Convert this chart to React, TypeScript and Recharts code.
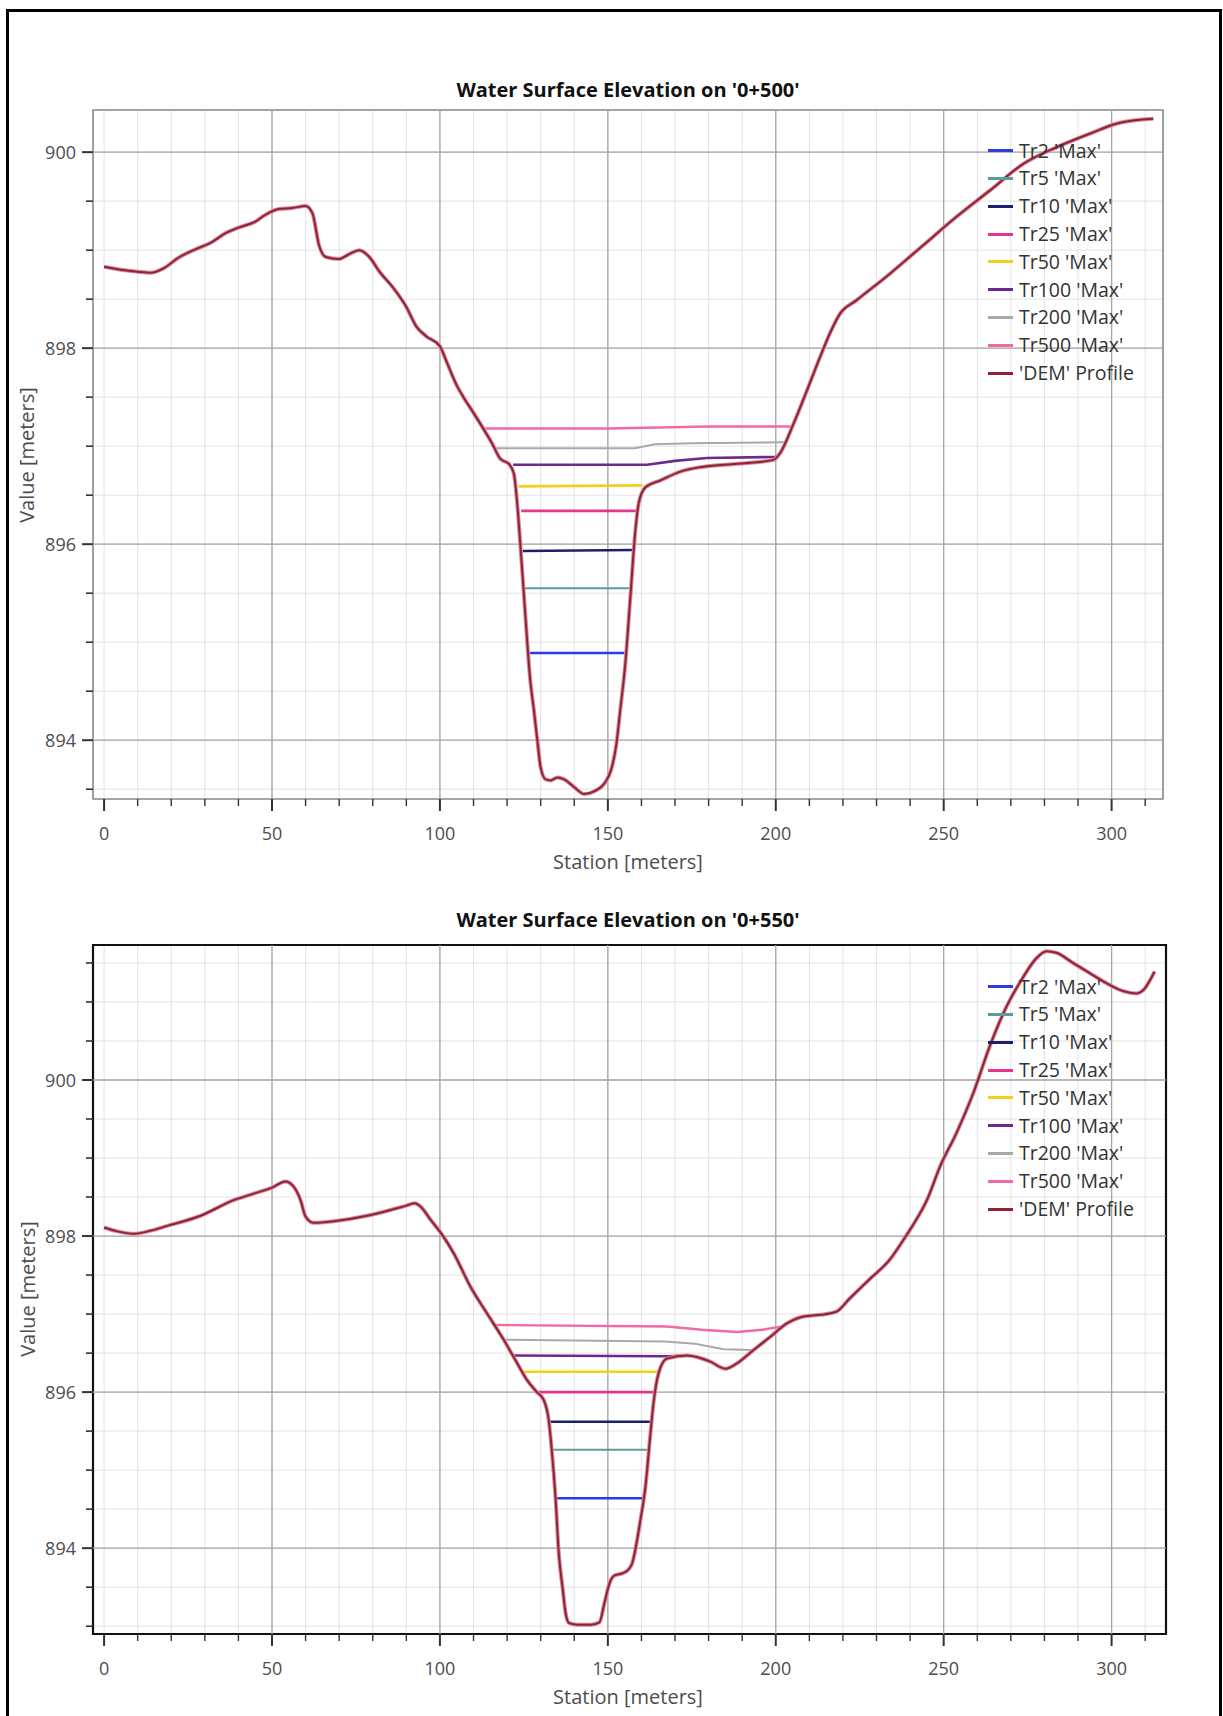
import React from 'react';
import { LineChart, Line, XAxis, YAxis, CartesianGrid, ReferenceLine, ReferenceArea } from 'recharts';

// ---------- shared labels / ticks ----------
const legendLabels = ["Tr2 'Max'", "Tr5 'Max'", "Tr10 'Max'", "Tr25 'Max'", "Tr50 'Max'", "Tr100 'Max'", "Tr200 'Max'", "Tr500 'Max'", "'DEM' Profile"];
const seriesColors = ['#2f3ae6', '#5a9c97', '#1d1f6e', '#e6368c', '#f2d11c', '#6a2a8e', '#a9a9a9', '#f06aa6', '#8e2436'];
const stationTicks = [0, 10, 20, 30, 40, 50, 60, 70, 80, 90, 100, 110, 120, 130, 140, 150, 160, 170, 180, 190, 200, 210, 220, 230, 240, 250, 260, 270, 280, 290, 300, 310];
const majorStations = [50, 100, 150, 200, 250, 300];
const xAxisTitle = 'Station [meters]';
const yAxisTitle = 'Value [meters]';

// ---------- chart 1 : 0+500 ----------
const c1Title = "Water Surface Elevation on '0+500'";
const c1ElevTicks = [893.5, 894, 894.5, 895, 895.5, 896, 896.5, 897, 897.5, 898, 898.5, 899, 899.5, 900];
const c1MajorElev = [894, 896, 898, 900];
const c1Dem: [number, number][] = [
  [0, 898.83], [5, 898.8], [10, 898.78], [14, 898.77], [18, 898.82], [22, 898.92], [28, 899.02], [32, 899.08],
  [36, 899.17], [40, 899.23], [45, 899.29], [48, 899.36], [52, 899.42], [56, 899.43], [60, 899.45], [62, 899.38],
  [64, 899.05], [66, 898.93], [70, 898.91], [73, 898.96], [76, 899.0], [79, 898.93], [82, 898.78], [86, 898.62],
  [90, 898.42], [93, 898.22], [96, 898.12], [100, 898.02], [102, 897.86], [105, 897.62], [107, 897.5], [110, 897.34],
  [112, 897.23], [115.5, 897.03], [118, 896.87], [120.5, 896.82], [122, 896.72], [123, 896.42], [124, 895.97],
  [125.4, 895.29], [126.9, 894.61], [128, 894.3], [129, 894.0], [130, 893.72], [131.5, 893.6], [133, 893.59],
  [135, 893.62], [137, 893.6], [140, 893.52], [143, 893.45], [146, 893.48], [149, 893.56], [151, 893.7],
  [152.5, 893.95], [153.7, 894.31], [155.2, 894.78], [156.7, 895.46], [158.2, 896.14], [159.2, 896.42],
  [161.2, 896.58], [165.6, 896.65], [171.6, 896.74], [178.5, 896.79], [188.5, 896.82], [199.3, 896.86],
  [201.3, 896.93], [205.3, 897.23], [209.3, 897.57], [213.2, 897.91], [216.1, 898.15], [219.1, 898.35],
  [224.1, 898.49], [234, 898.76], [243.9, 899.05], [253.8, 899.34], [263.8, 899.61], [273.7, 899.88],
  [283.6, 900.05], [293.6, 900.19], [301.4, 900.29], [308.5, 900.33], [312.4, 900.34],
];
const c1Tr2: [number, number][] = [[126.3, 894.89], [155.0, 894.89]];
const c1Tr5: [number, number][] = [[125.3, 895.55], [156.3, 895.55]];
const c1Tr10: [number, number][] = [[124.6, 895.93], [157.7, 895.94]];
const c1Tr25: [number, number][] = [[124.2, 896.34], [158.6, 896.34]];
const c1Tr50: [number, number][] = [[123.4, 896.59], [160.3, 896.6]];
const c1Tr100: [number, number][] = [[121.8, 896.81], [161.7, 896.81], [170, 896.85], [179.5, 896.88], [200.6, 896.89]];
const c1Tr200: [number, number][] = [[116.3, 896.98], [158, 896.98], [164, 897.02], [175, 897.03], [202.4, 897.04]];
const c1Tr500: [number, number][] = [[112.5, 897.18], [150, 897.18], [180, 897.2], [204.4, 897.2]];

// ---------- chart 2 : 0+550 ----------
const c2Title = "Water Surface Elevation on '0+550'";
const c2ElevTicks = [893, 893.5, 894, 894.5, 895, 895.5, 896, 896.5, 897, 897.5, 898, 898.5, 899, 899.5, 900, 900.5, 901, 901.5];
const c2MajorElev = [894, 896, 898, 900];
const c2Dem: [number, number][] = [
  [0, 898.11], [4, 898.06], [8.9, 898.03], [14, 898.07], [18.8, 898.13], [28.7, 898.26], [38.6, 898.46],
  [45, 898.55], [50, 898.62], [54, 898.7], [56.5, 898.63], [58.5, 898.46], [60, 898.25], [62.4, 898.17],
  [68.4, 898.19], [78.3, 898.26], [85, 898.33], [90, 898.39], [92.5, 898.42], [94.2, 898.38], [97.2, 898.21],
  [101.1, 897.99], [104.1, 897.78], [109.1, 897.35], [114, 897.01], [119, 896.67], [123, 896.37], [126, 896.15],
  [128.9, 896.0], [130.9, 895.9], [132.4, 895.64], [133.4, 895.21], [134.4, 894.66], [135.4, 893.93],
  [136.5, 893.5], [137.5, 893.15], [138.5, 893.04], [141, 893.02], [145, 893.02], [147.5, 893.05], [149, 893.3],
  [150.5, 893.55], [152, 893.65], [154.5, 893.68], [156, 893.72], [157.2, 893.8], [159.7, 894.36],
  [161.2, 894.79], [162.6, 895.43], [163.6, 895.86], [165.1, 896.24], [167.6, 896.43], [173.6, 896.47],
  [176.5, 896.45], [180.5, 896.39], [185, 896.3], [188.5, 896.37], [193.4, 896.54], [198.4, 896.71],
  [203.3, 896.88], [208.3, 896.97], [213.2, 896.99], [218, 897.03], [222, 897.2], [228, 897.45], [234, 897.7],
  [238, 897.95], [241, 898.15], [245, 898.46], [249, 898.9], [253.8, 899.32], [258.8, 899.83], [263.7, 900.43],
  [268.7, 900.94], [273.7, 901.32], [277.6, 901.56], [280.6, 901.65], [283.6, 901.63], [288.5, 901.5],
  [293.5, 901.37], [298.5, 901.24], [303.4, 901.14], [307.4, 901.11], [309.4, 901.15], [312.8, 901.39],
];
const c2Tr2: [number, number][] = [[134.5, 894.64], [160.8, 894.64]];
const c2Tr5: [number, number][] = [[133.5, 895.26], [162.2, 895.26]];
const c2Tr10: [number, number][] = [[132.7, 895.62], [162.9, 895.62]];
const c2Tr25: [number, number][] = [[128.4, 896.0], [164.4, 896.0]];
const c2Tr50: [number, number][] = [[124.0, 896.26], [165.2, 896.26]];
const c2Tr100: [number, number][] = [[121.5, 896.47], [167.6, 896.46], [173.6, 896.47]];
const c2Tr200: [number, number][] = [[119.5, 896.67], [167, 896.65], [176, 896.62], [184.5, 896.55], [192.5, 896.54], [194, 896.55]];
const c2Tr500: [number, number][] = [[116.5, 896.86], [167.6, 896.84], [178, 896.8], [188.5, 896.77], [196, 896.8], [201.5, 896.84]];

const toPts = (arr: [number, number][]) => arr.map(([x, y]) => ({ x, y }));

const FONT = '"Open Sans", "DejaVu Sans", sans-serif';
const TICK_FS = 18;

const XTick = (props: any) => {
  const { x, y, payload } = props;
  const v = payload.value;
  const major = v % 50 === 0;
  return (
    <g>
      <line x1={x} x2={x} y1={y} y2={y + (major ? 12 : 7)} stroke="#333" strokeWidth={major ? 2 : 1.4} />
      {major && (
        <text x={x} y={y + 34} textAnchor="middle" dominantBaseline="central" fontSize={TICK_FS} fontFamily={FONT} fill="#4d4d4d">
          {v}
        </text>
      )}
    </g>
  );
};

const YTick = (props: any) => {
  const { x, y, payload } = props;
  const v = payload.value;
  const major = Math.abs(v % 2) < 1e-6;
  return (
    <g>
      <line x1={x} x2={x - (major ? 11 : 7)} y1={y} y2={y} stroke="#333" strokeWidth={major ? 2 : 1.6} />
      {major && (
        <text x={x - 17} y={y} textAnchor="end" dominantBaseline="central" fontSize={TICK_FS} fontFamily={FONT} fill="#4d4d4d">
          {v}
        </text>
      )}
    </g>
  );
};

type ChartCfg = {
  top: number;
  height: number;
  marginTop: number;
  marginRight: number;
  marginBottom: number;
  xDomain: [number, number];
  yDomain: [number, number];
  yTicks: number[];
  yMajor: number[];
  series: [number, number][][];
  dem: [number, number][];
  frameColor: string;
  frameWidth: number;
};

const ProfileChart = ({ cfg }: { cfg: ChartCfg }) => {
  const widths = [2.6, 2, 2.6, 2.6, 2.6, 2.6, 2, 2.4];
  return (
    <div style={{ position: 'absolute', left: 0, top: cfg.top }}>
      <LineChart
        width={1223}
        height={cfg.height}
        margin={{ top: cfg.marginTop, right: cfg.marginRight, left: 33, bottom: cfg.marginBottom }}
      >
        <CartesianGrid stroke="#e3e3e3" strokeWidth={1} />
        {majorStations.map((s) => (
          <ReferenceLine key={'vx' + s} x={s} stroke="#a6a6a6" strokeWidth={1.3} />
        ))}
        {cfg.yMajor.map((v) => (
          <ReferenceLine key={'hy' + v} y={v} stroke="#a6a6a6" strokeWidth={1.3} />
        ))}
        <XAxis
          type="number"
          dataKey="x"
          domain={cfg.xDomain}
          allowDataOverflow
          ticks={stationTicks}
          interval={0}
          tickSize={0}
          tickMargin={0}
          tick={(p: any) => <XTick {...p} />}
          axisLine={false}
          tickLine={false}
          height={80}
        />
        <YAxis
          type="number"
          dataKey="y"
          domain={cfg.yDomain}
          allowDataOverflow
          ticks={cfg.yTicks}
          interval={0}
          tickSize={0}
          tickMargin={0}
          tick={(p: any) => <YTick {...p} />}
          axisLine={false}
          tickLine={false}
          width={60}
        />
        {cfg.series.map((s, i) => (
          <Line
            key={legendLabels[i]}
            data={toPts(s)}
            dataKey="y"
            type="linear"
            stroke={seriesColors[i]}
            strokeWidth={widths[i]}
            dot={false}
            activeDot={false}
            isAnimationActive={false}
            name={legendLabels[i]}
          />
        ))}
        <Line
          data={toPts(cfg.dem)}
          dataKey="y"
          type="monotone"
          stroke="#d98a9c"
          strokeWidth={4}
          dot={false}
          activeDot={false}
          isAnimationActive={false}
          legendType="none"
        />
        <Line
          data={toPts(cfg.dem)}
          dataKey="y"
          type="monotone"
          stroke={seriesColors[8]}
          strokeWidth={2}
          dot={false}
          activeDot={false}
          isAnimationActive={false}
          name={legendLabels[8]}
        />
        <ReferenceArea
          x1={cfg.xDomain[0]}
          x2={cfg.xDomain[1]}
          y1={cfg.yDomain[0]}
          y2={cfg.yDomain[1]}
          fill="none"
          fillOpacity={0}
          stroke={cfg.frameColor}
          strokeWidth={cfg.frameWidth}
        />
      </LineChart>
    </div>
  );
};

const Legend = ({ left, top }: { left: number; top: number }) => (
  <div style={{ position: 'absolute', left, top, fontFamily: FONT, fontSize: 19.5, color: '#333' }}>
    {legendLabels.map((l, i) => (
      <div key={l} style={{ display: 'flex', alignItems: 'center', height: 27.8 }}>
        <span style={{ display: 'inline-block', width: 25, height: 3, background: seriesColors[i] }} />
        <span style={{ marginLeft: 6, whiteSpace: 'nowrap', lineHeight: '22px' }}>{l}</span>
      </div>
    ))}
  </div>
);

const CText = ({ x, y, text, size, bold, rotate }: { x: number; y: number; text: string; size: number; bold?: boolean; rotate?: boolean }) => (
  <div
    style={{
      position: 'absolute',
      left: x,
      top: y,
      transform: `translate(-50%, -50%)${rotate ? ' rotate(-90deg)' : ''}`,
      whiteSpace: 'nowrap',
      fontFamily: FONT,
      fontSize: size,
      fontWeight: bold ? 700 : 400,
      color: bold ? '#111' : '#4d4d4d',
      lineHeight: 1,
    }}
  >
    {text}
  </div>
);

export default function App() {
  const cfg1: ChartCfg = {
    top: 0,
    height: 900,
    marginTop: 110,
    marginRight: 60,
    marginBottom: 21,
    xDomain: [-3.3, 315.3],
    yDomain: [893.4, 900.43],
    yTicks: c1ElevTicks,
    yMajor: c1MajorElev,
    series: [c1Tr2, c1Tr5, c1Tr10, c1Tr25, c1Tr50, c1Tr100, c1Tr200, c1Tr500],
    dem: c1Dem,
    frameColor: '#8a8a8a',
    frameWidth: 1.6,
  };
  const cfg2: ChartCfg = {
    top: 835,
    height: 881,
    marginTop: 110,
    marginRight: 57,
    marginBottom: 2,
    xDomain: [-3.3, 316.2],
    yDomain: [892.9, 901.73],
    yTicks: c2ElevTicks,
    yMajor: c2MajorElev,
    series: [c2Tr2, c2Tr5, c2Tr10, c2Tr25, c2Tr50, c2Tr100, c2Tr200, c2Tr500],
    dem: c2Dem,
    frameColor: '#111',
    frameWidth: 2.2,
  };
  return (
    <div style={{ position: 'absolute', left: 0, top: 0, width: 1223, height: 1716, overflow: 'hidden', background: '#fff' }}>
      <ProfileChart cfg={cfg1} />
      <ProfileChart cfg={cfg2} />
      <Legend left={988} top={136.8} />
      <Legend left={988} top={972.8} />
      <CText x={628} y={90} text={c1Title} size={20} bold />
      <CText x={628} y={920} text={c2Title} size={20} bold />
      <CText x={628} y={862} text={xAxisTitle} size={20} />
      <CText x={628} y={1697} text={xAxisTitle} size={20} />
      <CText x={27} y={455} text={yAxisTitle} size={20} rotate />
      <CText x={28} y={1289} text={yAxisTitle} size={20} rotate />
      <div
        style={{
          position: 'absolute',
          left: 6,
          top: 9,
          width: 1216,
          height: 1760,
          border: '3px solid #000',
          boxSizing: 'border-box',
          pointerEvents: 'none',
        }}
      />
    </div>
  );
}
